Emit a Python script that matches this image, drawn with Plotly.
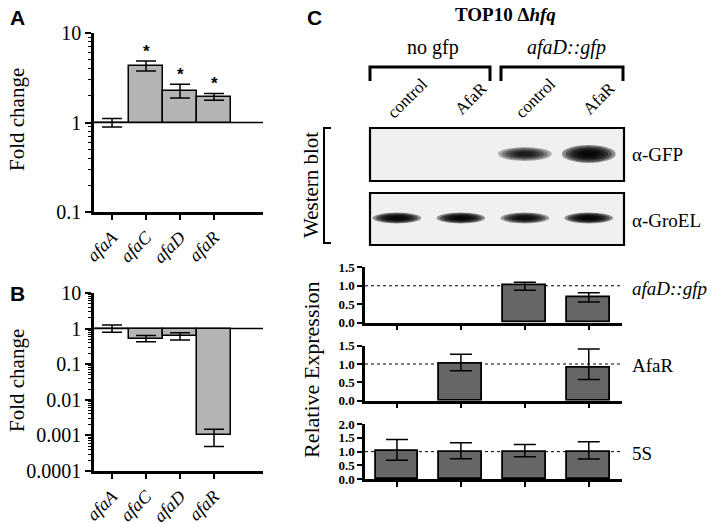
import math
import plotly.graph_objects as go

W, H = 718, 523
def px(x): return x / W
def py(y): return 1 - y / H

# ---------------- data ----------------
genes = ["afaA", "afaC", "afaD", "afaR"]
a_fold = [1.0, 4.29, 2.25, 1.93]
a_err_hi = [1.11, 4.88, 2.68, 2.11]
a_err_lo = [0.89, 3.77, 1.88, 1.77]
a_sig = [False, True, True, True]

b_fold = [1.0, 0.51, 0.63, 0.001]
b_err_hi = [1.27, 0.64, 0.77, 0.0015]
b_err_lo = [0.79, 0.43, 0.48, 0.00049]

lanes = ["control", "AfaR", "control", "AfaR"]
groups = ["no gfp", "afaD::gfp"]
gfp_expr = [0, 0, 1.0, 0.69]
gfp_hi = [0, 0, 1.095, 0.81]
gfp_lo = [0, 0, 0.88, 0.56]
afar_expr = [0, 1.02, 0, 0.91]
afar_hi = [0, 1.27, 0, 1.41]
afar_lo = [0, 0.82, 0, 0.58]
s5_expr = [1.02, 1.0, 1.0, 1.0]
s5_hi = [1.44, 1.32, 1.26, 1.36]
s5_lo = [0.69, 0.74, 0.82, 0.73]
wb_gfp = [0, 0, 0.7, 1.0]
wb_groel = [0.9, 0.9, 0.8, 0.92]
qpcr_names = ["afaD::gfp", "AfaR", "5S"]

SERIF = "Liberation Serif"
LIGHT = "#b4b4b4"
DARK = "#666666"

fig = go.Figure()
idx = list(range(len(genes)))

def log_panel(vals, hi, lo, xa, ya):
    fig.add_trace(go.Bar(x=idx, y=[v - 1 for v in vals], base=1, width=1.0,
                         marker=dict(color=LIGHT, line=dict(color="black", width=1.5)),
                         xaxis=xa, yaxis=ya, showlegend=False))
    fig.add_trace(go.Scatter(x=idx, y=vals, mode="markers", marker=dict(size=1, color="rgba(0,0,0,0)"),
                             error_y=dict(type="data", symmetric=False,
                                          array=[h - v for h, v in zip(hi, vals)],
                                          arrayminus=[v - l for v, l in zip(vals, lo)],
                                          color="black", thickness=1.5, width=10),
                             xaxis=xa, yaxis=ya, showlegend=False))

log_panel(a_fold, a_err_hi, a_err_lo, "x", "y")
log_panel(b_fold, b_err_hi, b_err_lo, "x2", "y2")

lane_idx = list(range(len(lanes)))
def c_panel(vals, hi, lo, xa, ya):
    fig.add_trace(go.Bar(x=lane_idx, y=[v if v > 0 else None for v in vals], width=0.67,
                         marker=dict(color=DARK, line=dict(color="black", width=1.8)),
                         xaxis=xa, yaxis=ya, showlegend=False))
    fig.add_trace(go.Scatter(x=lane_idx, y=[v if v > 0 else None for v in vals], mode="markers",
                             marker=dict(size=1, color="rgba(0,0,0,0)"),
                             error_y=dict(type="data", symmetric=False,
                                          array=[h - v for h, v in zip(hi, vals)],
                                          arrayminus=[v - l for v, l in zip(vals, lo)],
                                          color="black", thickness=1.5, width=11),
                             xaxis=xa, yaxis=ya, showlegend=False))

c_panel(gfp_expr, gfp_hi, gfp_lo, "x3", "y3")
c_panel(afar_expr, afar_hi, afar_lo, "x4", "y4")
c_panel(s5_expr, s5_hi, s5_lo, "x5", "y5")

# ---------------- axes ----------------
AB_X = [px(94), px(263)]
C_X = [px(365), px(622)]
axline = dict(showline=True, linecolor="black", linewidth=2.5, ticks="outside",
              tickcolor="black", tickwidth=2, showgrid=False, zeroline=False,
              automargin=False)

def minor_vals(lo, hi):
    out = []
    for e in range(lo, hi):
        for m in range(2, 10):
            out.append(m * 10 ** e)
    return out

xcat = dict(axline, domain=AB_X, range=[-0.53, 4.44], tickvals=idx,
            ticktext=["<i>%s</i>" % g for g in genes], tickangle=-45, ticklen=5,
            tickfont=dict(family=SERIF, size=18, color="black"))
fig.update_layout(
    xaxis=dict(xcat, anchor="y"),
    yaxis=dict(axline, type="log", range=[-1, 1], domain=[py(212), py(33)], anchor="x",
               tickvals=[0.1, 1, 10], ticktext=["0.1", "1", "10"], ticklen=6,
               tickfont=dict(family=SERIF, size=20, color="black"),
               minor=dict(tickvals=minor_vals(-1, 1), ticks="outside", ticklen=3,
                          tickwidth=1.2, tickcolor="black")),
    xaxis2=dict(xcat, anchor="y2"),
    yaxis2=dict(axline, type="log", range=[-4, 1], domain=[py(471), py(293)], anchor="x2",
                tickvals=[0.0001, 0.001, 0.01, 0.1, 1, 10],
                ticktext=["0.0001", "0.001", "0.01", "0.1", "1", "10"], ticklen=6,
                tickfont=dict(family=SERIF, size=20, color="black"),
                minor=dict(tickvals=minor_vals(-4, 1), ticks="outside", ticklen=3,
                           tickwidth=1, tickcolor="black")),
)
cx = dict(axline, domain=C_X, range=[-0.5, 3.52], tickvals=lane_idx, showticklabels=False, ticklen=5)
cy = dict(axline, ticklen=5, tickformat=".1f",
          tickfont=dict(family=SERIF, size=13, color="black", weight="bold"))
fig.update_layout(
    xaxis3=dict(cx, anchor="y3"), yaxis3=dict(cy, domain=[py(322.7), py(267.3)], range=[0, 1.5], dtick=0.5, anchor="x3"),
    xaxis4=dict(cx, anchor="y4"), yaxis4=dict(cy, domain=[py(400.7), py(345.7)], range=[0, 1.5], dtick=0.5, anchor="x4"),
    xaxis5=dict(cx, anchor="y5"), yaxis5=dict(cy, domain=[py(479.3), py(424)], range=[0, 2.0], dtick=0.5, anchor="x5"),
)

shapes = []
for xa, ya in [("x", "y"), ("x2", "y2")]:
    shapes.append(dict(type="line", xref=xa + " domain", yref=ya, x0=0, x1=1, y0=1, y1=1,
                       line=dict(color="black", width=1.5), layer="below"))
for xa, ya in [("x3", "y3"), ("x4", "y4"), ("x5", "y5")]:
    shapes.append(dict(type="line", xref=xa + " domain", yref=ya, x0=0, x1=1, y0=1, y1=1,
                       line=dict(color="black", width=1, dash="dot"), layer="below"))

# western blot boxes
for (y0, y1) in [(128, 181), (193, 245)]:
    shapes.append(dict(type="rect", xref="paper", yref="paper", x0=px(370), x1=px(624),
                       y0=py(y1), y1=py(y0), fillcolor="#f0f0f0",
                       line=dict(color="black", width=2.2), layer="below"))

def bands(intens, yc, base_h, grow_h, halfw, alpha):
    for lane, inten in enumerate(intens):
        if inten <= 0:
            continue
        h = base_h + grow_h * inten
        for k in range(6):
            f = 1 - k * 0.14
            shapes.append(dict(type="circle", xref="x3", yref="paper",
                               x0=lane - halfw * f, x1=lane + halfw * f,
                               y0=py(yc + h * f / 2), y1=py(yc - h * f / 2),
                               fillcolor="black", opacity=alpha * inten,
                               line=dict(width=0)))

bands(wb_gfp, 154, 4, 14, 0.42, 0.42)
bands(wb_groel, 218, 10, 1, 0.38, 0.47)

# brackets over lane groups
for (x0, x1) in [(370, 490), (501, 623)]:
    shapes.append(dict(type="path", xref="paper", yref="paper",
                       path="M %f %f L %f %f L %f %f L %f %f" % (px(x0), py(81), px(x0), py(67),
                                                                 px(x1), py(67), px(x1), py(81)),
                       line=dict(color="black", width=3)))
# western blot bracket
shapes.append(dict(type="path", xref="paper", yref="paper",
                   path="M %f %f L %f %f L %f %f L %f %f" % (px(331), py(128), px(324), py(128),
                                                             px(324), py(243), px(331), py(243)),
                   line=dict(color="black", width=2)))

ann = []
def txt(x, y, s, size=18, family=SERIF, angle=0, xanchor="center", **kw):
    ann.append(dict(x=px(x), y=py(y), xref="paper", yref="paper", text=s, showarrow=False,
                    font=dict(family=family, size=size, color="black"), textangle=angle,
                    xanchor=xanchor, yanchor="middle", **kw))

txt(17, 17, "<b>A</b>", 21, "Liberation Sans")
txt(17, 293, "<b>B</b>", 21, "Liberation Sans")
txt(314, 17, "<b>C</b>", 21, "Liberation Sans")
txt(17, 120, "Fold change", 21, angle=-90)
txt(17, 381, "Fold change", 21, angle=-90)

# significance stars (annotation y on log axes is given in log10 units)
for i, (s, h) in enumerate(zip(a_sig, a_err_hi)):
    if s:
        ann.append(dict(x=i, y=math.log10(h), xref="x", yref="y", text="<b>*</b>", showarrow=False,
                        xanchor="center", yanchor="bottom", yshift=-2,
                        font=dict(family="Liberation Sans", size=17, color="black")))

txt(505, 15, "<b>TOP10 Δ<i>hfq</i></b>", 19)
txt(433, 48, groups[0], 20)
txt(566, 48, "<i>%s</i>" % groups[1], 20)
for i, l in enumerate(lanes):
    ann.append(dict(x=i, y=py(98), xref="x3", yref="paper", text=l, showarrow=False,
                    textangle=-45, xshift=10, xanchor="center", yanchor="middle",
                    font=dict(family=SERIF, size=17, color="black")))
txt(630, 154, "α-GFP", 19, xanchor="left")
txt(630, 220, "α-GroEL", 19, xanchor="left")
txt(311, 185, "Western blot", 21, angle=-90)
txt(311, 370, "Relative Expression", 22, angle=-90)
txt(630, 288, "<i>%s</i>" % qpcr_names[0], 19, xanchor="left")
txt(630, 365, qpcr_names[1], 19, xanchor="left")
txt(630, 453, qpcr_names[2], 19, xanchor="left")

fig.update_layout(width=W, height=H, margin=dict(l=0, r=0, t=0, b=0),
                  paper_bgcolor="white", plot_bgcolor="rgba(0,0,0,0)",
                  shapes=shapes, annotations=ann, bargap=0, showlegend=False)
fig.write_html("out.html", config={"displayModeBar": False},
               post_script="document.body.style.margin='0px';")
